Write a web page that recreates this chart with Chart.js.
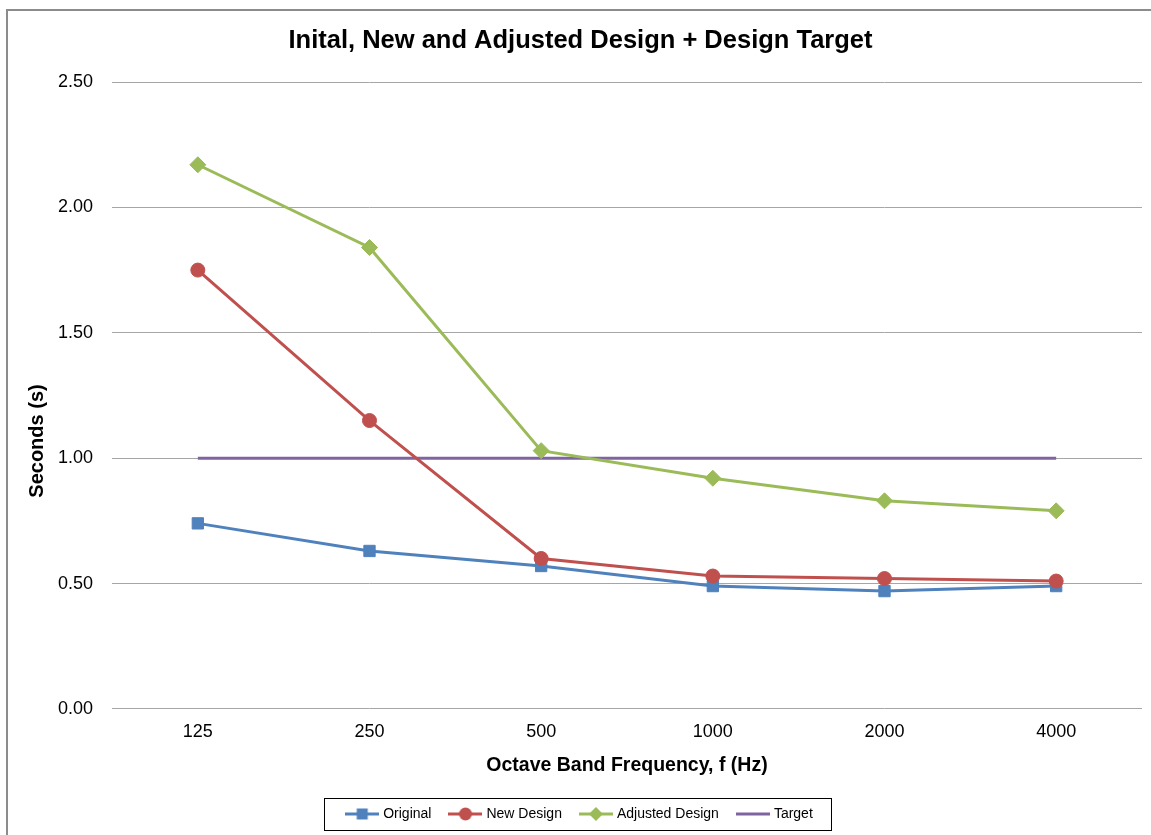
<!DOCTYPE html>
<html>
<head>
    <meta charset="UTF-8">
    <title>Inital, New and Adjusted Design + Design Target</title>
    <script src="https://cdn.jsdelivr.net/npm/chart.js@4.4.1/dist/chart.umd.min.js"></script>
    <style>
        body { margin: 0; background: #fff; overflow: hidden; }
        #frame { position: absolute; left: 6px; top: 9px; width: 1300px; height: 1000px;
                 border-left: 2px solid #8c8c8c; border-top: 2px solid #8c8c8c; }
        #wrap { position: absolute; left: 0; top: 0; width: 1151px; height: 835px; }
    </style>

    <script>
        // data
        let frequencies = ["125", "250", "500", "1000", "2000", "4000"];
        let original = [0.74, 0.63, 0.57, 0.49, 0.47, 0.49];
        let newDesign = [1.75, 1.15, 0.60, 0.53, 0.52, 0.51];
        let adjustedDesign = [2.17, 1.84, 1.03, 0.92, 0.83, 0.79];
        let target = [1.00, 1.00, 1.00, 1.00, 1.00, 1.00];
        let yTicks = [0, 0.5, 1.0, 1.5, 2.0, 2.5];

        const FONT = "'Liberation Sans', Arial, sans-serif";

        // legend icon = short line with the marker in the middle
        function makeIcon(color, style) {
            var c = document.createElement('canvas');
            c.width = 34; c.height = 16;
            var g = c.getContext('2d');
            g.strokeStyle = color;
            g.lineWidth = 3;
            g.beginPath(); g.moveTo(0, 8); g.lineTo(34, 8); g.stroke();
            g.fillStyle = color;
            g.beginPath();
            if (style === 'rect') {
                g.rect(11.5, 2.5, 11, 11);
            } else if (style === 'circle') {
                g.arc(17, 8, 6.5, 0, Math.PI * 2);
            } else if (style === 'rectRot') {
                g.moveTo(10, 8); g.lineTo(17, 1); g.lineTo(24, 8); g.lineTo(17, 15); g.closePath();
            }
            if (style) g.fill();
            return c;
        }

        // y title sits lower than the plot centre in the original
        const yTitlePlugin = {
            id: 'yTitle',
            afterDraw(chart) {
                var ctx = chart.ctx;
                ctx.save();
                ctx.translate(37, 441);
                ctx.rotate(-Math.PI / 2);
                ctx.font = "bold 20px " + FONT;
                ctx.fillStyle = '#000';
                ctx.textAlign = 'center';
                ctx.textBaseline = 'middle';
                ctx.fillText('Seconds (s)', 0, 0);
                ctx.restore();
            }
        };

        // box round the legend items
        const legendBoxPlugin = {
            id: 'legendBox',
            afterDraw(chart) {
                var boxes = chart.legend.legendHitBoxes;
                if (!boxes || !boxes.length) return;
                var l = Math.min.apply(null, boxes.map(b => b.left));
                var r = Math.max.apply(null, boxes.map(b => b.left + b.width));
                var t = boxes[0].top, h = boxes[0].height;
                var ctx = chart.ctx;
                ctx.save();
                ctx.strokeStyle = '#000';
                ctx.lineWidth = 1;
                ctx.strokeRect(Math.round(l - 24) + 0.5, Math.round(t + h / 2 - 16) + 0.5, Math.round(r - l + 42), 32);
                ctx.restore();
            }
        };

        window.onload = function () {
            var ctx = document.getElementById('myChart').getContext('2d');
            var myChart = new Chart(ctx, {
                type: 'line',
                data: {
                    labels: frequencies,
                    datasets: [{
                        label: 'Original',
                        data: original,
                        borderColor: '#4F81BD',
                        backgroundColor: '#4F81BD',
                        borderWidth: 3,
                        pointStyle: 'rect',
                        pointRadius: 8,
                        pointBorderWidth: 1,
                        order: 3
                    }, {
                        label: 'New Design',
                        data: newDesign,
                        borderColor: '#C0504D',
                        backgroundColor: '#C0504D',
                        borderWidth: 3,
                        pointStyle: 'circle',
                        pointRadius: 7,
                        pointBorderWidth: 1,
                        order: 2
                    }, {
                        label: 'Adjusted Design',
                        data: adjustedDesign,
                        borderColor: '#9BBB59',
                        backgroundColor: '#9BBB59',
                        borderWidth: 3,
                        pointStyle: 'rectRot',
                        pointRadius: 8,
                        pointBorderWidth: 1,
                        order: 1
                    }, {
                        label: 'Target',
                        data: target,
                        borderColor: '#8064A2',
                        backgroundColor: '#8064A2',
                        borderWidth: 3,
                        pointRadius: 0,
                        order: 4
                    }]
                },
                options: {
                    responsive: false,
                    animation: false,
                    devicePixelRatio: 1,
                    layout: { padding: { left: 18, right: 8, top: 20, bottom: 4 } },
                    plugins: {
                        title: {
                            display: true,
                            text: 'Inital, New and Adjusted Design + Design Target',
                            color: '#000',
                            font: { family: FONT, size: 25.5, weight: 'bold' },
                            padding: { top: 6, bottom: 25.4 }
                        },
                        legend: {
                            position: 'bottom',
                            labels: {
                                color: '#000',
                                font: { family: FONT, size: 14 },
                                usePointStyle: true,
                                pointStyleWidth: 28,
                                padding: 20,
                                generateLabels: function (chart) {
                                    var styles = ['rect', 'circle', 'rectRot', null];
                                    return chart.data.datasets.map(function (ds, i) {
                                        return {
                                            text: ds.label,
                                            fillStyle: ds.borderColor,
                                            strokeStyle: ds.borderColor,
                                            lineWidth: 0,
                                            pointStyle: makeIcon(ds.borderColor, styles[i]),
                                            datasetIndex: i,
                                            fontColor: '#000'
                                        };
                                    });
                                }
                            }
                        },
                        tooltip: { enabled: false }
                    },
                    scales: {
                        x: {
                            offset: true,
                            grid: { display: false, drawTicks: false },
                            border: { display: false },
                            ticks: { color: '#000', font: { family: FONT, size: 18, lineHeight: 1 }, padding: 14.4 },
                            title: {
                                display: true,
                                text: 'Octave Band Frequency, f (Hz)',
                                color: '#000',
                                font: { family: FONT, size: 19.5, weight: 'bold', lineHeight: 1 },
                                padding: { top: 0, bottom: 11.75 }
                            }
                        },
                        y: {
                            min: 0,
                            max: 2.5,
                            afterBuildTicks: function (scale) {
                                scale.ticks = yTicks.map(v => ({ value: v }));
                            },
                            afterFit: function (scale) {
                                scale.width = 94;
                            },
                            grid: { color: '#a6a6a6', lineWidth: 1, drawTicks: false },
                            border: { display: false },
                            ticks: {
                                color: '#000',
                                font: { family: FONT, size: 18 },
                                padding: 19,
                                callback: function (v) { return Number(v).toFixed(2); }
                            }
                        }
                    }
                },
                plugins: [yTitlePlugin, legendBoxPlugin]
            });
        };
    </script>
</head>
<body>
    <div id="frame"></div>
    <div id="wrap">
        <canvas id="myChart" width="1151" height="835"></canvas>
    </div>
</body>
</html>
